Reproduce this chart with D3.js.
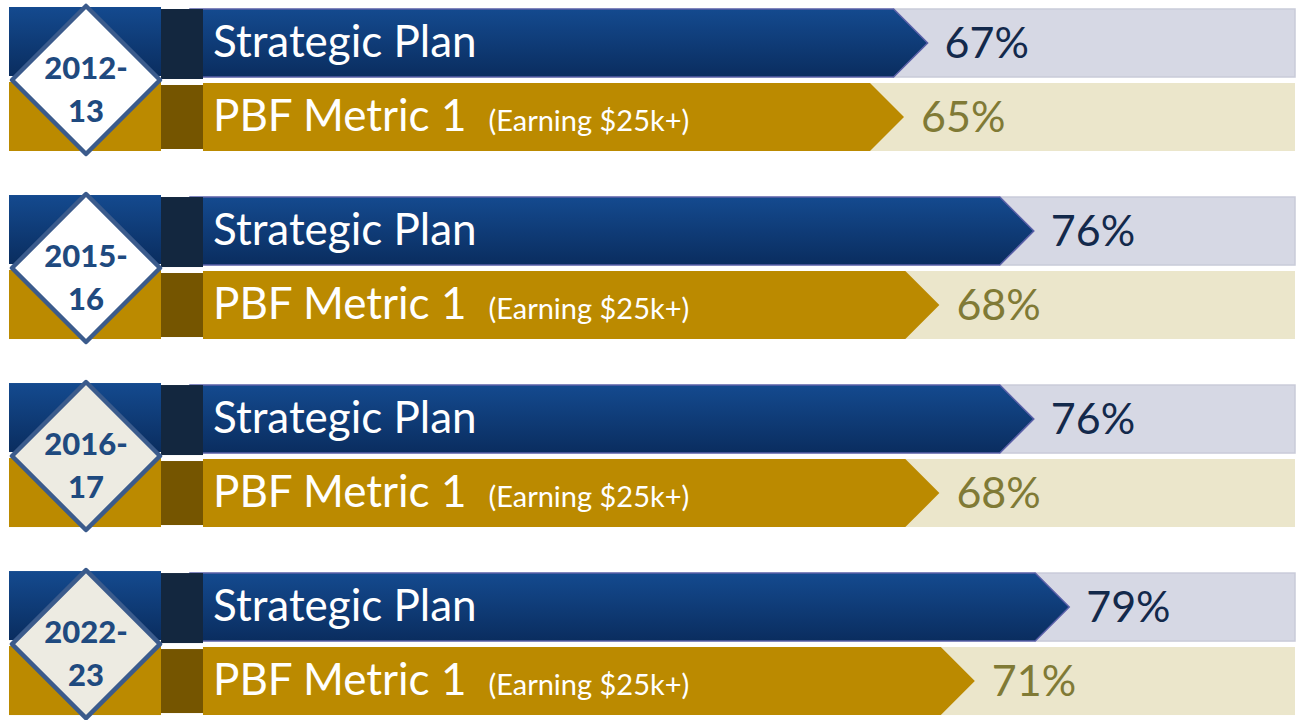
<!DOCTYPE html>
<html>
<head>
<meta charset="utf-8">
<script src="https://cdn.jsdelivr.net/npm/d3@7"></script>
<style>
  html, body { margin: 0; padding: 0; background: #fff; }
  svg { display: block; }
</style>
</head>
<body>
<svg id="chart" width="1296" height="720"></svg>
<script>
// chart values
const periods = ["2012-13", "2015-16", "2016-17", "2022-23"];
const strategicPlan = [67, 76, 76, 79];
const pbfMetric = [65, 68, 68, 71];
const seriesNames = ["Strategic Plan", "PBF Metric 1"];
const seriesNotes = ["", "(Earning $25k+)"];

const svg = d3.select("#chart");
const width = 1296;
const font = "Lato, 'Open Sans', sans-serif";

// group rows, and the two bars inside each group
const yGroup = d3.scaleBand().domain(periods).range([7, 716]).paddingInner(0.229);
const yRow = d3.scaleBand().domain(seriesNames).range([2, 144]).paddingInner(0.081);
// arrow tip position for a percentage
const x = d3.scaleLinear().domain([0, 100]).range([137, 1317]);

const defs = svg.append("defs");
const grad = defs.append("linearGradient").attr("id", "blueGrad")
  .attr("x1", 0).attr("y1", 0).attr("x2", 0).attr("y2", 1);
grad.append("stop").attr("offset", "0%").attr("stop-color", "#144a8f");
grad.append("stop").attr("offset", "100%").attr("stop-color", "#0a2d5f");

const style = {
  "Strategic Plan": { fill: "url(#blueGrad)", track: "#d6d8e4", trackStroke: "#c9cbd9",
    dark: "#13273f", stroke: "#5a60a8", label: "#13294b", barStart: 190 },
  "PBF Metric 1": { fill: "#bb8a00", track: "#ebe6cb", trackStroke: "none",
    dark: "#755500", stroke: "none", label: "#807a35", barStart: 203 }
};

const rows = periods.map((p, i) => ({
  period: p,
  values: [
    { name: seriesNames[0], note: seriesNotes[0], value: strategicPlan[i] },
    { name: seriesNames[1], note: seriesNotes[1], value: pbfMetric[i] }
  ]
}));

const groups = svg.selectAll("g.group")
  .data(rows)
  .enter()
  .append("g")
  .attr("class", "group")
  .attr("transform", d => `translate(0,${yGroup(d.period)})`);

const h = yRow.bandwidth();

rows.forEach((row, gi) => {
  const g = groups.filter((d, i) => i === gi);

  row.values.forEach(s => {
    const st = style[s.name];
    const top = yRow(s.name);
    const mid = top + h / 2;
    const tip = x(s.value);

    // background track
    g.append("rect")
      .attr("x", tip - h / 2)
      .attr("y", top)
      .attr("width", width - (tip - h / 2) - 1)
      .attr("height", h)
      .attr("fill", st.track)
      .attr("stroke", st.trackStroke)
      .attr("stroke-width", 1.5);

    // arrow bar
    const pts = [
      [st.barStart, top], [tip - h / 2, top], [tip, mid],
      [tip - h / 2, top + h], [st.barStart, top + h]
    ];
    g.append("path")
      .attr("d", d3.line()(pts) + "Z")
      .attr("fill", st.fill)
      .attr("stroke", st.stroke)
      .attr("stroke-width", 1.5);

    // dark square
    g.append("rect")
      .attr("x", 161)
      .attr("y", s.name === seriesNames[0] ? top : top + 2)
      .attr("width", 42)
      .attr("height", s.name === seriesNames[0] ? h + 2 : h - 4)
      .attr("fill", st.dark);

    // left block behind the diamond
    g.append("rect")
      .attr("x", 9)
      .attr("y", s.name === seriesNames[0] ? top - 2 : top - 1)
      .attr("width", 152)
      .attr("height", h + 1)
      .attr("fill", st.fill);

    // series label
    const t = g.append("text")
      .attr("x", 213)
      .attr("y", mid + 14)
      .attr("fill", "#fff")
      .style("font-family", font)
      .style("font-size", "44px");
    t.append("tspan").text(s.name);
    if (s.note) {
      t.append("tspan")
        .attr("dx", 22)
        .style("font-size", "29px")
        .text(s.note);
    }

    // value label
    g.append("text")
      .attr("x", tip + 17)
      .attr("y", mid + 15)
      .attr("fill", st.label)
      .style("font-family", font)
      .style("font-size", "43px")
      .text(s.value + "%");
  });

  // diamond with the period
  const cx = 86, cy = 73, r = 74;
  g.append("path")
    .attr("d", d3.line()([[cx, cy - r], [cx + r, cy], [cx, cy + r], [cx - r, cy]]) + "Z")
    .attr("fill", gi < 2 ? "#ffffff" : "#edebe2")
    .attr("stroke", "#3b5b8c")
    .attr("stroke-width", 4.5)
    .attr("stroke-linejoin", "round");

  const parts = row.period.split("-");
  g.append("text")
    .attr("x", cx)
    .attr("y", cy - 1)
    .attr("text-anchor", "middle")
    .attr("fill", "#1f4a7f")
    .style("font-family", font)
    .style("font-weight", "900")
    .style("font-size", "31px")
    .text(parts[0] + "-");
  g.append("text")
    .attr("x", cx)
    .attr("y", cy + 42)
    .attr("text-anchor", "middle")
    .attr("fill", "#1f4a7f")
    .style("font-family", font)
    .style("font-weight", "900")
    .style("font-size", "31px")
    .text(parts[1]);
});
</script>
</body>
</html>
